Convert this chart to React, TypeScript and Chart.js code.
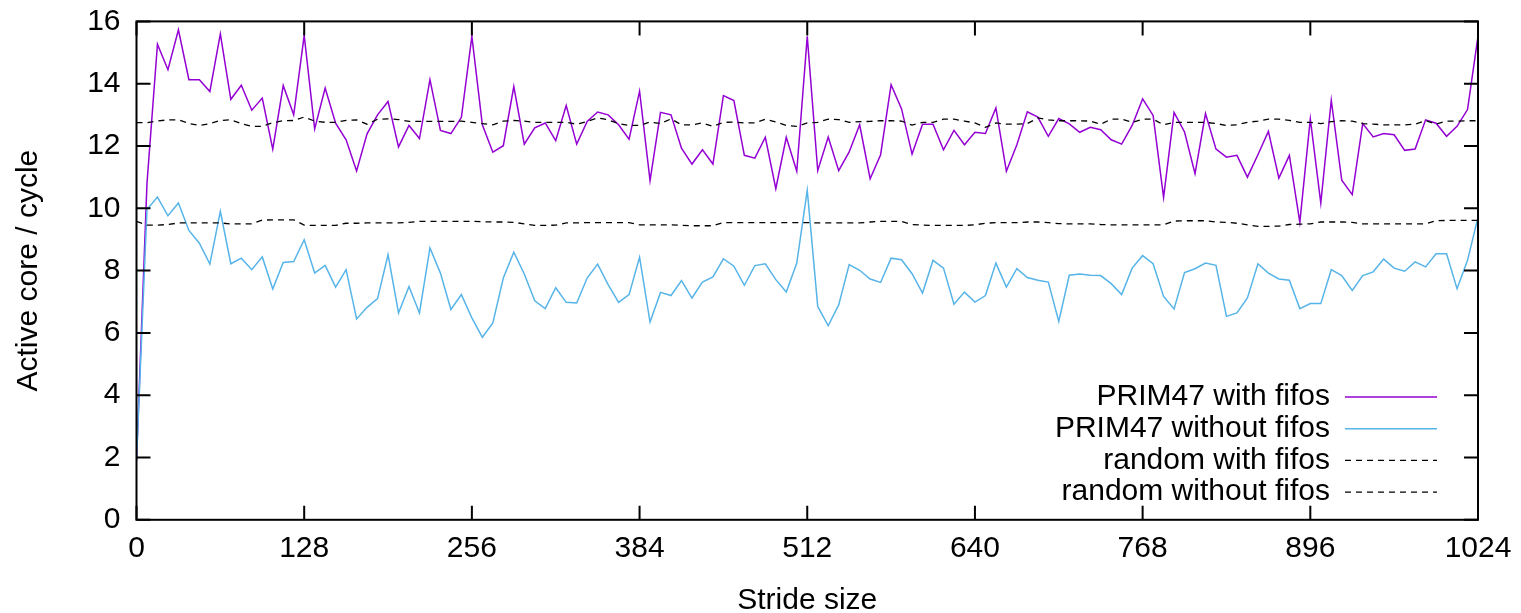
import { useEffect, useRef } from 'react';
import { Chart, registerables } from 'chart.js';

Chart.register(...registerables);

const strides = [
  0, 8, 16, 24, 32, 40, 48, 56, 64, 72, 80, 88, 96, 104, 112, 120,
  128, 136, 144, 152, 160, 168, 176, 184, 192, 200, 208, 216, 224, 232, 240, 248,
  256, 264, 272, 280, 288, 296, 304, 312, 320, 328, 336, 344, 352, 360, 368, 376,
  384, 392, 400, 408, 416, 424, 432, 440, 448, 456, 464, 472, 480, 488, 496, 504,
  512, 520, 528, 536, 544, 552, 560, 568, 576, 584, 592, 600, 608, 616, 624, 632,
  640, 648, 656, 664, 672, 680, 688, 696, 704, 712, 720, 728, 736, 744, 752, 760,
  768, 776, 784, 792, 800, 808, 816, 824, 832, 840, 848, 856, 864, 872, 880, 888,
  896, 904, 912, 920, 928, 936, 944, 952, 960, 968, 976, 984, 992, 1000, 1008, 1016,
  1024,
];

const prim47WithFifos = [
  1.9, 10.8, 15.27, 14.45, 15.73, 14.13, 14.13, 13.75, 15.6, 13.5, 13.95, 13.15, 13.54, 11.9, 13.94, 13.0,
  15.55, 12.55, 13.86, 12.73, 12.2, 11.2, 12.39, 13.0, 13.43, 11.97, 12.66, 12.24, 14.13, 12.5, 12.4, 12.92,
  15.52, 12.68, 11.8, 12.01, 13.91, 12.06, 12.58, 12.74, 12.17, 13.3, 12.06, 12.79, 13.09, 13.0, 12.68, 12.22,
  13.76, 10.89, 13.08, 13.0, 11.93, 11.42, 11.88, 11.42, 13.62, 13.46, 11.7, 11.61, 12.28, 10.63, 12.28, 11.19,
  15.52, 11.21, 12.29, 11.21, 11.81, 12.68, 10.95, 11.72, 13.97, 13.19, 11.74, 12.7, 12.7, 11.88, 12.5, 12.04,
  12.44, 12.4, 13.22, 11.19, 12.04, 13.1, 12.93, 12.31, 12.88, 12.71, 12.44, 12.6, 12.52, 12.2, 12.06, 12.66,
  13.51, 12.98, 10.35, 13.08, 12.45, 11.11, 13.04, 11.9, 11.64, 11.7, 11.0, 11.72, 12.47, 10.97, 11.7, 9.55,
  12.87, 10.17, 13.47, 10.9, 10.44, 12.72, 12.29, 12.4, 12.36, 11.86, 11.9, 12.84, 12.73, 12.31, 12.63, 13.17,
  15.52,
];

const prim47WithoutFifos = [
  1.9, 9.96, 10.36, 9.76, 10.17, 9.29, 8.88, 8.21, 9.9, 8.22, 8.4, 8.03, 8.44, 7.41, 8.26, 8.29,
  8.99, 7.92, 8.17, 7.47, 8.03, 6.45, 6.82, 7.1, 8.51, 6.64, 7.49, 6.64, 8.73, 7.92, 6.75, 7.23,
  6.48, 5.86, 6.32, 7.76, 8.59, 7.89, 7.03, 6.78, 7.45, 6.98, 6.96, 7.76, 8.21, 7.55, 6.98, 7.23,
  8.43, 6.35, 7.3, 7.2, 7.68, 7.12, 7.63, 7.8, 8.38, 8.14, 7.53, 8.16, 8.22, 7.71, 7.31, 8.24,
  10.58, 6.85, 6.23, 6.9, 8.19, 8.01, 7.73, 7.62, 8.4, 8.35, 7.9, 7.28, 8.33, 8.08, 6.92, 7.31,
  6.99, 7.2, 8.24, 7.47, 8.06, 7.78, 7.69, 7.63, 6.37, 7.85, 7.89, 7.85, 7.84, 7.58, 7.23, 8.08,
  8.48, 8.22, 7.17, 6.77, 7.94, 8.06, 8.24, 8.17, 6.53, 6.64, 7.12, 8.22, 7.92, 7.73, 7.69, 6.78,
  6.94, 6.94, 8.03, 7.84, 7.36, 7.84, 7.96, 8.37, 8.08, 7.98, 8.28, 8.12, 8.54, 8.54, 7.42, 8.33,
  9.71,
];

const randomWithFifos = [
  12.75, 12.75, 12.80, 12.84, 12.84, 12.72, 12.66, 12.72, 12.82, 12.84, 12.72, 12.63, 12.63, 12.75, 12.81, 12.82,
  12.93, 12.80, 12.76, 12.76, 12.82, 12.84, 12.70, 12.86, 12.87, 12.85, 12.79, 12.79, 12.79, 12.79, 12.79, 12.80,
  12.76, 12.72, 12.68, 12.80, 12.82, 12.80, 12.76, 12.76, 12.76, 12.76, 12.70, 12.79, 12.90, 12.84, 12.72, 12.66,
  12.66, 12.77, 12.72, 12.87, 12.68, 12.68, 12.74, 12.63, 12.76, 12.77, 12.74, 12.74, 12.86, 12.77, 12.66, 12.63,
  12.74, 12.76, 12.86, 12.85, 12.76, 12.78, 12.79, 12.81, 12.81, 12.80, 12.67, 12.76, 12.76, 12.86, 12.86, 12.80,
  12.74, 12.60, 12.74, 12.70, 12.70, 12.72, 12.90, 12.84, 12.81, 12.81, 12.81, 12.80, 12.70, 12.86, 12.86, 12.76,
  12.86, 12.86, 12.68, 12.76, 12.76, 12.76, 12.76, 12.72, 12.66, 12.68, 12.76, 12.80, 12.86, 12.86, 12.82, 12.76,
  12.76, 12.72, 12.78, 12.81, 12.80, 12.72, 12.70, 12.68, 12.68, 12.68, 12.70, 12.82, 12.70, 12.80, 12.80, 12.81,
  12.81,
];

const randomWithoutFifos = [
  9.58, 9.46, 9.46, 9.48, 9.53, 9.53, 9.53, 9.53, 9.53, 9.50, 9.50, 9.50, 9.62, 9.63, 9.63, 9.63,
  9.46, 9.45, 9.45, 9.45, 9.52, 9.52, 9.53, 9.53, 9.53, 9.53, 9.55, 9.58, 9.58, 9.58, 9.58, 9.58,
  9.58, 9.57, 9.56, 9.56, 9.55, 9.50, 9.45, 9.45, 9.46, 9.53, 9.53, 9.54, 9.54, 9.54, 9.54, 9.54,
  9.47, 9.47, 9.47, 9.47, 9.45, 9.44, 9.44, 9.44, 9.54, 9.54, 9.54, 9.54, 9.54, 9.54, 9.54, 9.54,
  9.54, 9.53, 9.53, 9.53, 9.53, 9.53, 9.56, 9.58, 9.58, 9.58, 9.48, 9.46, 9.45, 9.45, 9.45, 9.45,
  9.47, 9.52, 9.54, 9.54, 9.54, 9.56, 9.56, 9.54, 9.51, 9.50, 9.50, 9.50, 9.48, 9.47, 9.47, 9.47,
  9.47, 9.47, 9.47, 9.59, 9.60, 9.60, 9.60, 9.56, 9.55, 9.52, 9.47, 9.42, 9.42, 9.43, 9.48, 9.49,
  9.50, 9.56, 9.56, 9.56, 9.55, 9.50, 9.50, 9.50, 9.50, 9.50, 9.50, 9.50, 9.60, 9.61, 9.61, 9.61,
  9.61,
];

const xTickValues = [0, 128, 256, 384, 512, 640, 768, 896, 1024];
const yTickValues = [0, 2, 4, 6, 8, 10, 12, 14, 16];

const seriesLabels = [
  'PRIM47 with fifos',
  'PRIM47 without fifos',
  'random with fifos',
  'random without fifos',
];

const xTitle = 'Stride size';
const yTitle = 'Active core / cycle';

const FONT_FAMILY = '"Liberation Sans", Arial, Helvetica, sans-serif';
const FONT_SIZE = 30;

const W = 1521;
const H = 613;

const frameAndKey = {
  id: 'frameAndKey',
  afterDatasetsDraw(chart: any) {
    const { ctx, chartArea: a, scales } = chart;
    const xs = scales.x;
    const ys = scales.y;
    const tick = 14;
    ctx.save();
    ctx.strokeStyle = '#000';
    ctx.lineWidth = 2;
    ctx.beginPath();
    for (const v of xTickValues) {
      const px = xs.getPixelForValue(v);
      ctx.moveTo(px, a.bottom);
      ctx.lineTo(px, a.bottom - tick);
      ctx.moveTo(px, a.top);
      ctx.lineTo(px, a.top + tick);
    }
    for (const v of yTickValues) {
      const py = ys.getPixelForValue(v);
      ctx.moveTo(a.left, py);
      ctx.lineTo(a.left + tick, py);
      ctx.moveTo(a.right, py);
      ctx.lineTo(a.right - tick, py);
    }
    ctx.stroke();
    ctx.strokeRect(a.left, a.top, a.right - a.left, a.bottom - a.top);

    // key (bottom right, inside the plot)
    const textRight = 1330;
    const sampleL = 1345;
    const sampleR = 1437;
    const firstRow = 397;
    const rowStep = 31.7;
    ctx.font = `${FONT_SIZE}px ${FONT_FAMILY}`;
    ctx.textAlign = 'right';
    ctx.textBaseline = 'middle';
    ctx.fillStyle = '#000';
    chart.data.datasets.forEach((ds: any, i: number) => {
      const yy = firstRow + i * rowStep;
      ctx.fillText(ds.label, textRight, yy);
      ctx.save();
      ctx.strokeStyle = ds.borderColor;
      ctx.lineWidth = ds.borderWidth;
      ctx.setLineDash(ds.borderDash || []);
      ctx.beginPath();
      ctx.moveTo(sampleL, yy);
      ctx.lineTo(sampleR, yy);
      ctx.stroke();
      ctx.restore();
    });
    ctx.restore();
  },
};

export default function App() {
  const canvasRef = useRef<HTMLCanvasElement | null>(null);

  useEffect(() => {
    const canvas = canvasRef.current;
    if (!canvas) return;
    const tickFont = { family: FONT_FAMILY, size: FONT_SIZE };
    const chart = new Chart(canvas, {
      type: 'line',
      data: {
        labels: strides,
        datasets: [
          {
            label: seriesLabels[0],
            data: strides.map((s, i) => ({ x: s, y: prim47WithFifos[i] })),
            borderColor: '#9400d3',
            borderWidth: 1.5,
            pointRadius: 0,
            tension: 0,
            order: 4,
          },
          {
            label: seriesLabels[1],
            data: strides.map((s, i) => ({ x: s, y: prim47WithoutFifos[i] })),
            borderColor: '#56b4e9',
            borderWidth: 1.5,
            pointRadius: 0,
            tension: 0,
            order: 3,
          },
          {
            label: seriesLabels[2],
            data: strides.map((s, i) => ({ x: s, y: randomWithFifos[i] })),
            borderColor: '#000000',
            borderWidth: 1.3,
            borderDash: [6, 5],
            pointRadius: 0,
            tension: 0,
            order: 2,
          },
          {
            label: seriesLabels[3],
            data: strides.map((s, i) => ({ x: s, y: randomWithoutFifos[i] })),
            borderColor: '#000000',
            borderWidth: 1.3,
            borderDash: [6, 5],
            pointRadius: 0,
            tension: 0,
            order: 1,
          },
        ],
      },
      options: {
        animation: false,
        responsive: false,
        devicePixelRatio: 1,
        layout: { padding: { top: 21.4, right: 43, bottom: 0, left: 0 } },
        plugins: {
          legend: { display: false },
          tooltip: { enabled: false },
        },
        scales: {
          x: {
            type: 'linear',
            min: 0,
            max: 1024,
            afterBuildTicks: (s: any) => {
              s.ticks = xTickValues.map((v) => ({ value: v }));
            },
            afterFit: (s: any) => {
              s.height = H - 519.8;
              s.paddingLeft = 0;
              s.paddingRight = 0;
            },
            ticks: {
              color: '#000',
              font: tickFont,
              padding: 11,
              maxRotation: 0,
              autoSkip: false,
              callback: (v: any) => String(v),
            },
            grid: { display: false, drawTicks: false },
            border: { display: false },
            title: {
              display: true,
              text: xTitle,
              color: '#000',
              font: { family: FONT_FAMILY, size: FONT_SIZE, lineHeight: 1 },
              padding: { top: 0, bottom: -3 },
            },
          },
          y: {
            type: 'linear',
            min: 0,
            max: 16,
            afterBuildTicks: (s: any) => {
              s.ticks = yTickValues.map((v) => ({ value: v }));
            },
            afterFit: (s: any) => {
              s.width = 136.5;
              s.paddingTop = 0;
              s.paddingBottom = 0;
            },
            ticks: {
              color: '#000',
              font: tickFont,
              padding: 16,
              autoSkip: false,
              callback: (v: any) => String(v),
            },
            grid: { display: false, drawTicks: false },
            border: { display: false },
            title: {
              display: true,
              text: yTitle,
              color: '#000',
              font: { family: FONT_FAMILY, size: FONT_SIZE, lineHeight: 1 },
              padding: { top: 14, bottom: 0 },
            },
          },
        },
      },
      plugins: [frameAndKey],
    } as any);
    return () => chart.destroy();
  }, []);

  return (
    <div style={{ position: 'fixed', left: 0, top: 0, width: W, height: H, background: '#fff' }}>
      <canvas ref={canvasRef} width={W} height={H} style={{ display: 'block', width: W, height: H }} />
    </div>
  );
}
